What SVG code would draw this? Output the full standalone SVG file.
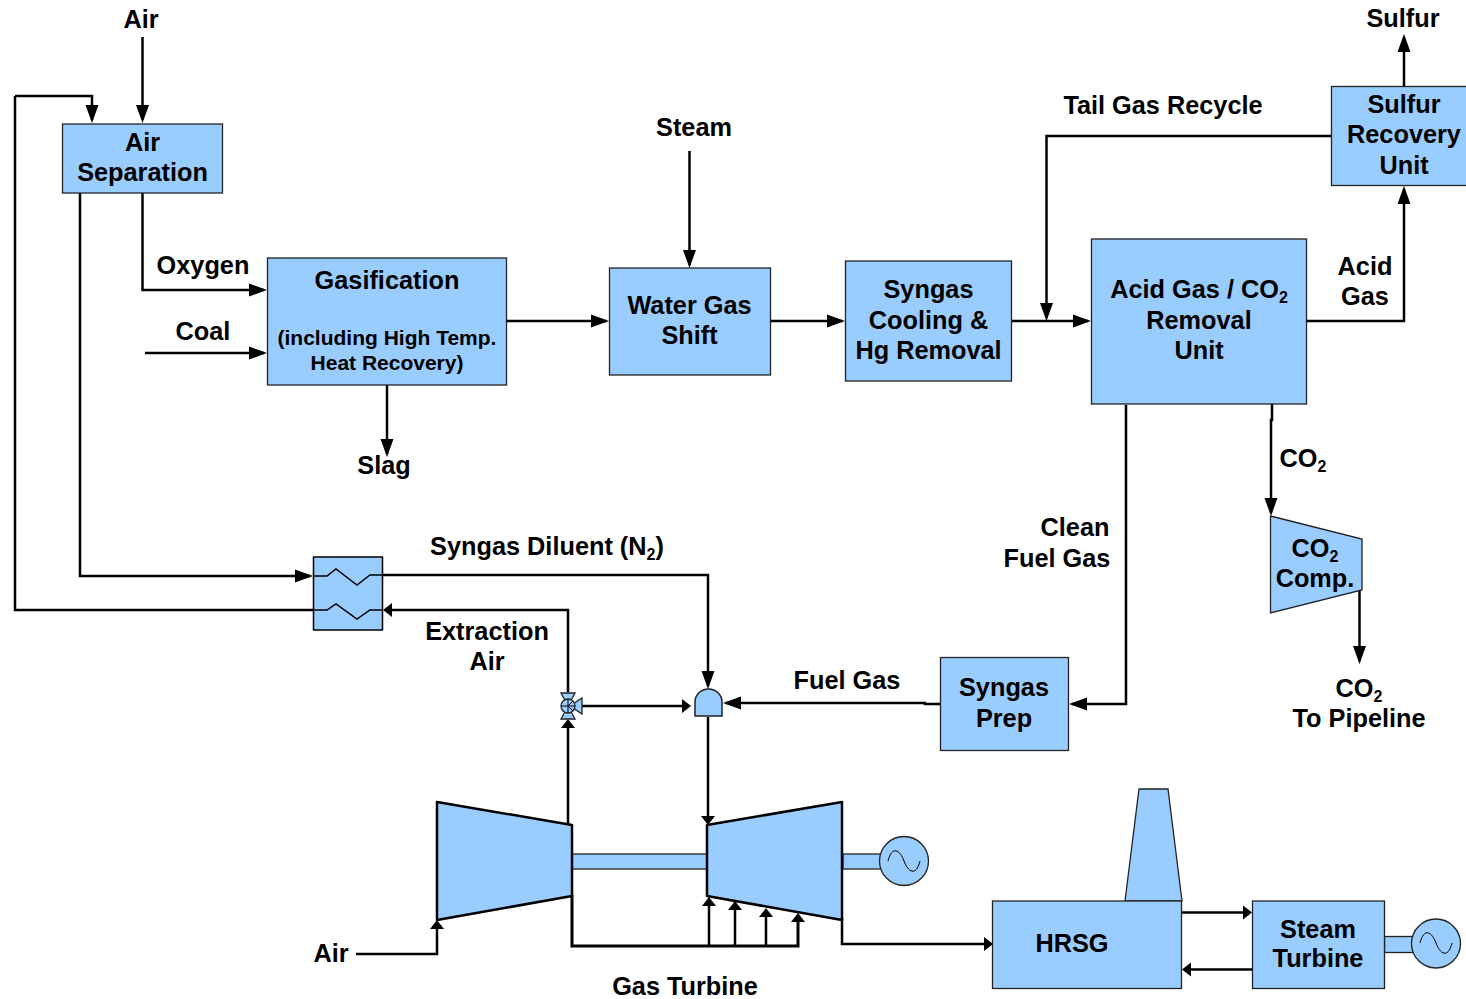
<svg xmlns="http://www.w3.org/2000/svg" width="1466" height="999" viewBox="0 0 1466 999">
<style>
text{font-family:"Liberation Sans",Arial,sans-serif;font-weight:bold;font-size:25.3px;fill:#000;text-anchor:middle}
.s{font-size:21px}
.sub{font-size:16px}
.n{fill:#99ccff;stroke:#222;stroke-width:1.3}
.t{fill:#99ccff;stroke:#000;stroke-width:2.5;stroke-linejoin:round}
.c{fill:none;stroke:#000;stroke-width:2.5}
.l{fill:none;stroke:#000;stroke-width:1.5}
</style>
<defs>
<marker id="a" markerUnits="userSpaceOnUse" markerWidth="18" markerHeight="14" refX="15" refY="7" orient="auto"><path d="M0 0.500L18 7L0 13.500Z" fill="#000"/></marker>
<marker id="b" markerUnits="userSpaceOnUse" markerWidth="9" markerHeight="16" refX="6" refY="8" orient="auto"><path d="M0 1L9 8L0 15Z" fill="#000"/></marker>
</defs>
<rect width="1466" height="999" fill="#fff"/>
<g id="connectors">
<path class="c" d="M142.500 37V120" marker-end="url(#a)"/>
<path class="c" d="M15 96H92V120" marker-end="url(#a)"/>
<path class="c" d="M142.500 193V290H264" marker-end="url(#a)"/>
<path class="c" d="M145 353H264" marker-end="url(#a)"/>
<path class="c" d="M387 385V454" marker-end="url(#a)"/>
<path class="c" d="M507 321H606" marker-end="url(#a)"/>
<path class="c" d="M689.500 151V265" marker-end="url(#a)"/>
<path class="c" d="M771 321H842" marker-end="url(#a)"/>
<path class="c" d="M1012 321H1088" marker-end="url(#a)"/>
<path class="c" d="M1331 136H1046.500V318" marker-end="url(#a)"/>
<path class="c" d="M1306 321H1404V189" marker-end="url(#a)"/>
<path class="c" d="M1404 86V37" marker-end="url(#a)"/>
<path class="c" d="M1272 404V420H1271V513" marker-end="url(#a)"/>
<path class="c" d="M1359.500 590V661" marker-end="url(#a)"/>
<path class="c" d="M1126 405V704H1072" marker-end="url(#a)"/>
<path class="c" d="M940 704H925V703H726" marker-end="url(#a)"/>
<path class="c" d="M80 193V576H310" marker-end="url(#a)"/>
<path class="c" d="M383 575H708V686" marker-end="url(#a)"/>
<path class="c" d="M314 610H15V96"/>
<path class="c" d="M568 692V610H386" marker-end="url(#b)"/>
<path class="c" d="M568 825V722" marker-end="url(#b)"/>
<path class="c" d="M582 706H688" marker-end="url(#b)"/>
<path class="c" d="M708 717V822" marker-end="url(#b)"/>
<path class="c" d="M356 954H437V923" marker-end="url(#b)"/>
<path class="c" d="M572 895V946H798V916" marker-end="url(#b)" style="stroke-width:3"/>
<path class="c" d="M709 946V900" marker-end="url(#b)"/>
<path class="c" d="M735 946V904" marker-end="url(#b)"/>
<path class="c" d="M766 946V911" marker-end="url(#b)"/>
<path class="c" d="M842 918V944H990" marker-end="url(#b)"/>
<path class="c" d="M1181 912.500H1249" marker-end="url(#b)"/>
<path class="c" d="M1252 969.500H1185" marker-end="url(#b)"/>
</g>
<g id="air-separation"><rect class="n" x="62.500" y="124" width="160" height="69"/><text x="142.500" y="151">Air</text><text x="142.500" y="181">Separation</text></g>
<g id="gasification"><rect class="n" x="267.500" y="258" width="239" height="127"/><text x="387" y="289">Gasification</text><text class="s" x="387" y="345">(including High Temp.</text><text class="s" x="387" y="370">Heat Recovery)</text></g>
<g id="water-gas-shift"><rect class="n" x="609.500" y="268" width="161" height="107"/><text x="689.500" y="314">Water Gas</text><text x="689.500" y="344">Shift</text></g>
<g id="syngas-cooling"><rect class="n" x="845.500" y="261" width="166" height="120"/><text x="928.500" y="298">Syngas</text><text x="928.500" y="329">Cooling &amp;</text><text x="928.500" y="359">Hg Removal</text></g>
<g id="acid-gas-removal"><rect class="n" x="1091.500" y="239" width="215" height="165"/><text x="1199" y="298">Acid Gas / CO<tspan class="sub" dy="5">2</tspan></text><text x="1199" y="329">Removal</text><text x="1199" y="359">Unit</text></g>
<g id="sulfur-recovery"><rect class="n" x="1331.500" y="86.500" width="136" height="99"/><text x="1404" y="113">Sulfur</text><text x="1404" y="143">Recovery</text><text x="1404" y="174">Unit</text></g>
<g id="co2-compressor"><path class="n" d="M1270.500 516L1362 539V590L1270.500 613Z"/><text x="1315" y="557">CO<tspan class="sub" dy="5">2</tspan></text><text x="1315" y="587">Comp.</text></g>
<g id="syngas-prep"><rect class="n" x="940.500" y="657.500" width="128" height="93"/><text x="1004" y="696">Syngas</text><text x="1004" y="727">Prep</text></g>
<g id="heat-exchanger"><rect class="t" style="stroke-width:1.5" x="313.500" y="557" width="69" height="73"/><path class="l" d="M314 576H327L336 569L357 585L370 575H383"/><path class="l" d="M314 610H327L336 604L357 619L370 610H383"/></g>
<g id="valve"><path class="n" d="M561 693H575L561 719H575Z"/><path class="n" d="M582 698V714L570 706Z"/><circle class="n" cx="568" cy="706" r="7"/><path class="l" style="stroke-width:1" d="M561 706H575M568 706L573 701M568 706L573 711M568 699V713"/></g>
<g id="combustor"><path class="n" style="stroke-width:1.500" d="M695 716V702A13.500 13 0 0 1 722 702V716Z"/></g>
<g id="gas-turbine">
<rect class="n" x="572" y="854" width="135" height="15"/>
<rect class="n" x="843" y="854" width="38" height="15"/>
<path class="t" d="M437 802L572 825V896L437 920Z"/>
<path class="t" d="M707 825L842 802V920L707 896Z"/>
<circle class="n" cx="904" cy="861" r="24.500"/><path class="l" style="stroke-width:1" d="M888 861C892 845 900 850 904 861C908 872 916 877 920 861"/>
</g>
<g id="hrsg"><path class="n" d="M1125 901L1139 789H1168L1182 901Z"/><rect class="n" x="992.500" y="901" width="189" height="87.500"/><text x="1072" y="952">HRSG</text></g>
<g id="steam-turbine"><rect class="n" x="1384.500" y="936.500" width="29" height="16"/><rect class="n" x="1252.500" y="901" width="132" height="87.500"/><text x="1318" y="938">Steam</text><text x="1318" y="967">Turbine</text><circle class="n" cx="1436" cy="943.500" r="24.500"/><path class="l" style="stroke-width:1" d="M1420 943C1424 927 1432 932 1436 943C1440 954 1448 959 1452 943"/></g>
<g id="labels">
<text x="141" y="28">Air</text>
<text x="1403" y="27">Sulfur</text>
<text x="1163" y="114">Tail Gas Recycle</text>
<text x="694" y="136">Steam</text>
<text x="203" y="274">Oxygen</text>
<text x="203" y="340">Coal</text>
<text x="1365" y="275">Acid</text>
<text x="1365" y="305">Gas</text>
<text x="384" y="474">Slag</text>
<text x="1303" y="467">CO<tspan class="sub" dy="5">2</tspan></text>
<text x="1075" y="536">Clean</text>
<text x="1057" y="567">Fuel Gas</text>
<text x="547" y="555">Syngas Diluent (N<tspan class="sub" dy="5">2</tspan><tspan dy="-5">)</tspan></text>
<text x="487" y="640">Extraction</text>
<text x="487" y="670">Air</text>
<text x="847" y="689">Fuel Gas</text>
<text x="1359" y="697">CO<tspan class="sub" dy="5">2</tspan></text>
<text x="1359" y="727">To Pipeline</text>
<text x="331" y="962">Air</text>
<text x="685" y="995">Gas Turbine</text>
</g>
</svg>
